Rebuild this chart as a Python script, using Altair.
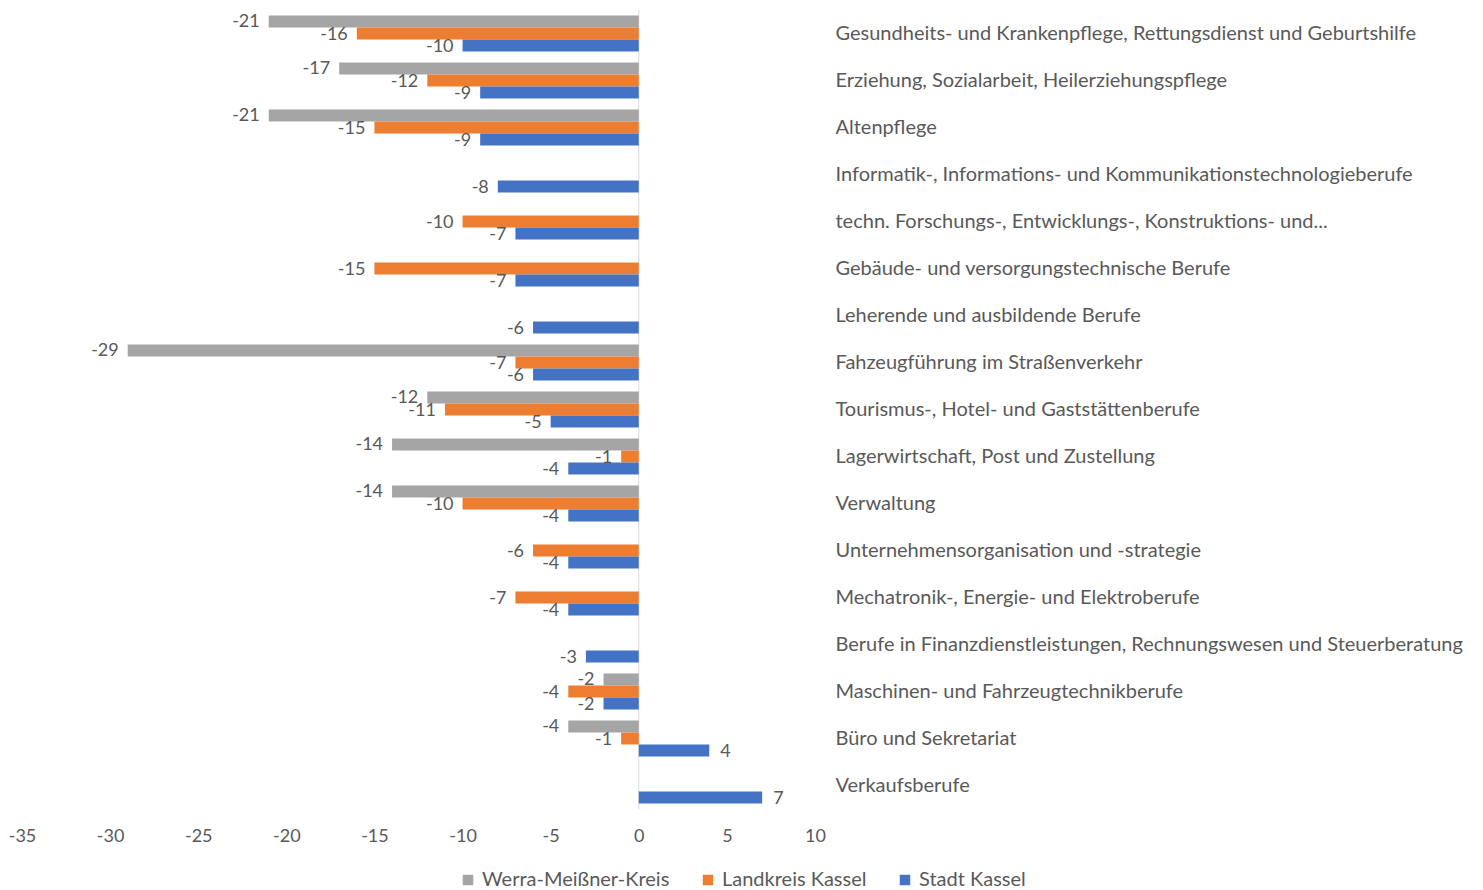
import altair as alt
import pandas as pd

categories = [
    "Gesundheits- und Krankenpflege, Rettungsdienst und Geburtshilfe",
    "Erziehung, Sozialarbeit, Heilerziehungspflege",
    "Altenpflege",
    "Informatik-, Informations- und Kommunikationstechnologieberufe",
    "techn. Forschungs-, Entwicklungs-, Konstruktions- und...",
    "Gebäude- und versorgungstechnische Berufe",
    "Leherende und ausbildende Berufe",
    "Fahzeugführung im Straßenverkehr",
    "Tourismus-, Hotel- und Gaststättenberufe",
    "Lagerwirtschaft, Post und Zustellung",
    "Verwaltung",
    "Unternehmensorganisation und -strategie",
    "Mechatronik-, Energie- und Elektroberufe",
    "Berufe in Finanzdienstleistungen, Rechnungswesen und Steuerberatung",
    "Maschinen- und Fahrzeugtechnikberufe",
    "Büro und Sekretariat",
    "Verkaufsberufe",
]
werra = [-21, -17, -21, None, None, None, None, -29, -12, -14, -14, None, None, None, -2, -4, None]
landkreis = [-16, -12, -15, None, -10, -15, None, -7, -11, -1, -10, -6, -7, None, -4, -1, None]
stadt = [-10, -9, -9, -8, -7, -7, -6, -6, -5, -4, -4, -4, -4, -3, -2, 4, 7]
series = ["Werra-Meißner-Kreis", "Landkreis Kassel", "Stadt Kassel"]
colors = ["#A5A5A5", "#ED7D31", "#4472C4"]
x_ticks = [-35, -30, -25, -20, -15, -10, -5, 0, 5, 10]

rows = []
for s, vals in zip(series, [werra, landkreis, stadt]):
    for c, v in zip(categories, vals):
        if v is not None:
            rows.append({"cat": c, "series": s, "value": v, "label": str(v)})
df = pd.DataFrame(rows)

FONT = "Lato"
TXT = "#595959"
NUM_SIZE = 18
CAT_SIZE = 20

y_enc = alt.Y(
    "cat:N",
    sort=categories,
    scale=alt.Scale(domain=categories, paddingInner=0.234, paddingOuter=0.117),
    axis=alt.Axis(
        orient="right", title=None, domain=False, ticks=False, labelPadding=20,
        labelLimit=1000, labelFontSize=CAT_SIZE, labelColor=TXT, labelFont=FONT, labelAlign="left",
    ),
)
yoff_enc = alt.YOffset("series:N", scale=alt.Scale(domain=series, paddingInner=0, paddingOuter=0))
x_enc = alt.X(
    "value:Q",
    scale=alt.Scale(domain=[-35, 10], nice=False, zero=False),
    axis=alt.Axis(
        values=x_ticks, title=None, domain=False, ticks=False, grid=False, labelFlush=False,
        labelExpr="'' + datum.value",
        labelPadding=18, labelFontSize=NUM_SIZE, labelColor=TXT, labelFont=FONT,
    ),
)

base = alt.Chart(df)

bars = base.mark_bar().encode(
    y=y_enc,
    yOffset=yoff_enc,
    x=x_enc,
    color=alt.Color(
        "series:N",
        scale=alt.Scale(domain=series, range=colors),
        legend=alt.Legend(
            title=None, orient="none", direction="horizontal", legendX=436, legendY=860,
            labelFontSize=CAT_SIZE, labelColor=TXT, labelFont=FONT, symbolType="square",
            symbolSize=110, symbolStrokeWidth=0, columnPadding=28, labelOffset=4,
            labelLimit=1000,
        ),
    ),
)

zero = alt.Chart(pd.DataFrame({"z": [0]})).mark_rule(color="#D9D9D9", strokeWidth=1).encode(
    x=alt.X("z:Q", scale=alt.Scale(domain=[-35, 10], nice=False, zero=False))
)

neg_text = base.transform_filter("datum.value < 0").mark_text(
    align="right", baseline="middle", dx=-9, dy=1, fontSize=NUM_SIZE, font=FONT, color=TXT
).encode(y=y_enc, yOffset=yoff_enc, x=x_enc, text=alt.Text("label:N"))

pos_text = base.transform_filter("datum.value >= 0").mark_text(
    align="left", baseline="middle", dx=11, dy=1, fontSize=NUM_SIZE, font=FONT, color=TXT
).encode(y=y_enc, yOffset=yoff_enc, x=x_enc, text=alt.Text("label:N"))

chart = (
    alt.layer(zero, bars, neg_text, pos_text)
    .properties(
        width=793, height=799,
        autosize=alt.AutoSizeParams(type="none"),
        padding={"left": 22, "top": 10, "right": 668, "bottom": 81},
        background="white",
    )
    .configure_view(stroke=None)
)

chart.save("out.html", embed_options={"renderer": "svg", "actions": False})
